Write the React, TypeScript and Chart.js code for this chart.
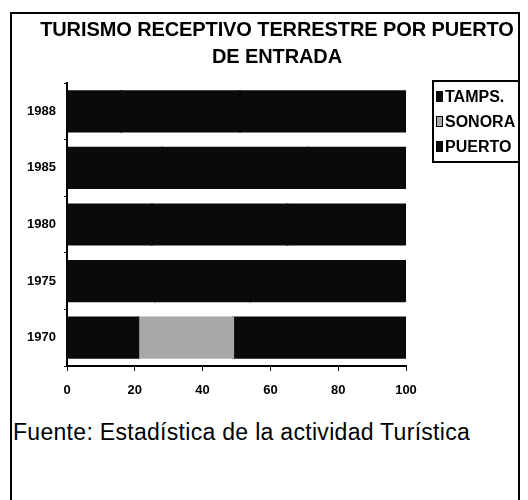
import React, { useEffect, useRef } from "react";
import { Chart, registerables } from "chart.js";

Chart.register(...registerables);

const titleLines = ["TURISMO RECEPTIVO TERRESTRE POR PUERTO", "DE ENTRADA"];
const footerText = "Fuente: Estadística de la actividad Turística";
const years = ["1988", "1985", "1980", "1975", "1970"];
const seriesNames = ["TAMPS.", "SONORA", "PUERTO"];
const tamps = [16, 28, 25, 26, 21];
const sonora = [35, 43, 40, 28, 28];
const puerto = [49, 29, 35, 46, 51];
const xTickValues = [0, 20, 40, 60, 80, 100];

const BLACK = "#0a0a0a";
const GRAY = "#a8a8a8";
const sonoraColors = years.map((y) => (y === "1970" ? GRAY : BLACK));
const legendColors = [BLACK, GRAY, BLACK];

const sans = "'Liberation Sans', Arial, sans-serif";

export default function App() {
  const ref = useRef<HTMLCanvasElement | null>(null);

  useEffect(() => {
    if (!ref.current) return;
    const chart = new Chart(ref.current, {
      type: "bar",
      data: {
        labels: years,
        datasets: [
          { label: seriesNames[0], data: tamps, backgroundColor: BLACK, borderWidth: 0, inflateAmount: 1 },
          { label: seriesNames[1], data: sonora, backgroundColor: sonoraColors, borderWidth: 0, inflateAmount: 1 },
          { label: seriesNames[2], data: puerto, backgroundColor: BLACK, borderWidth: 0, inflateAmount: 1 },
        ],
      },
      options: {
        indexAxis: "y",
        responsive: false,
        animation: false,
        devicePixelRatio: 1,
        layout: { padding: { left: 10, right: 122, top: 83, bottom: 0 } },
        plugins: {
          legend: { display: false },
          title: { display: false },
          tooltip: { enabled: false },
        },
        datasets: { bar: { categoryPercentage: 1, barPercentage: 0.71 } },
        scales: {
          x: {
            stacked: true,
            min: 0,
            max: 100,
            afterBuildTicks: (s: any) => {
              s.ticks = xTickValues.map((v) => ({ value: v }));
            },
            afterFit: (s: any) => {
              s.height = 44;
            },
            grid: { display: true, drawOnChartArea: false, drawTicks: true, tickLength: 5, color: "#000", lineWidth: 1 },
            border: { display: true, color: "#000", width: 2 },
            ticks: { color: "#000", padding: 12, font: { family: sans, size: 13, weight: "bold" } },
          },
          y: {
            stacked: true,
            afterFit: (s: any) => {
              s.width = 57;
            },
            grid: { display: true, drawOnChartArea: false, drawTicks: true, tickLength: 3, color: "#000", lineWidth: 1 },
            border: { display: true, color: "#000", width: 2 },
            ticks: { color: "#000", padding: 8, font: { family: sans, size: 13, weight: "bold" } },
          },
        },
      },
    });
    return () => chart.destroy();
  }, []);

  return (
    <div style={{ position: "absolute", left: 0, top: 0, width: 528, height: 500, overflow: "hidden", background: "#fff", fontFamily: sans, color: "#000" }}>
      <div style={{ position: "absolute", left: 10, top: 12, width: 510, height: 500, border: "2px solid #000", boxSizing: "border-box" }} />
      <canvas ref={ref} width={528} height={410} style={{ position: "absolute", left: 0, top: 0, width: 528, height: 410 }} />
      <div style={{ position: "absolute", left: 26, top: 16, width: 502, textAlign: "center", fontWeight: "bold", fontSize: 20, lineHeight: "27px", letterSpacing: "-0.1px" }}>
        {titleLines.map((t, i) => (
          <div key={i}>{t}</div>
        ))}
      </div>
      <div style={{ position: "absolute", left: 432, top: 80, width: 88, height: 83, border: "2px solid #000", boxSizing: "border-box", paddingTop: 2 }}>
        {seriesNames.map((n, i) => (
          <div key={n} style={{ display: "flex", alignItems: "center", height: 25, fontWeight: "bold", fontSize: 16, letterSpacing: "0px", whiteSpace: "nowrap" }}>
            <span style={{ display: "inline-block", width: 7, height: 11, marginLeft: 2, marginRight: 2, background: legendColors[i], border: i === 1 ? "1px solid #000" : "none", boxSizing: "border-box" }} />
            <span>{n}</span>
          </div>
        ))}
      </div>
      <div style={{ position: "absolute", left: 13, top: 418, fontSize: 23, lineHeight: "28px", letterSpacing: "0.3px", whiteSpace: "nowrap" }}>
        {footerText}
      </div>
    </div>
  );
}
